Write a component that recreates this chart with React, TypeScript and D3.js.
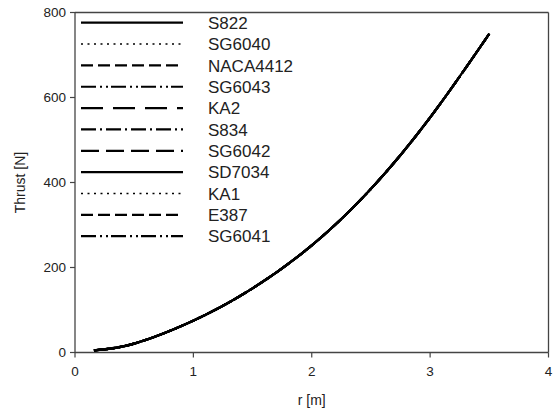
import React from "react";
import * as d3 from "d3";

const seriesNames = ["S822", "SG6040", "NACA4412", "SG6043", "KA2", "S834", "SG6042", "SD7034", "KA1", "E387", "SG6041"];
const dashPatterns = ["", "2,4.5", "12,5", "15,4,2,4,2,3", "22,10", "15,4,2,4", "18,7", "", "2,4.5", "12,5", "15,4,2,4,2,3"];
const radiusValues = [0.16, 0.5, 1.0, 1.5, 2.0, 2.5, 3.0, 3.5];
const thrustValues = [5, 21, 75, 151, 252, 385, 553, 750];
const xTicks = [0, 1, 2, 3, 4];
const yTicks = [0, 200, 400, 600, 800];

const W = 558, H = 412;
const M = { left: 75, right: 548.5, top: 12.5, bottom: 352.5 };
const FONT = "Liberation Sans, Arial, sans-serif";

export default function App() {
  const x = d3.scaleLinear().domain([0, 4]).range([M.left, M.right]);
  const y = d3.scaleLinear().domain([0, 800]).range([M.bottom, M.top]);
  const pts = radiusValues.map((r, i) => [r, thrustValues[i]] as [number, number]);
  const line = d3.line<[number, number]>().x(d => x(d[0])).y(d => y(d[1])).curve(d3.curveNatural);
  const path = line(pts) || "";
  const axisColor = "#444";
  return (
    <svg width={W} height={H} style={{ position: "absolute", left: 0, top: 0, background: "#fff" }} fontFamily={FONT}>
      <rect x={0} y={0} width={W} height={H} fill="#fff" />
      <line x1={M.left} x2={M.right} y1={M.top} y2={M.top} stroke={axisColor} strokeWidth={1.3} />
      <line x1={M.right} x2={M.right} y1={M.top} y2={M.bottom} stroke={axisColor} strokeWidth={1.3} />
      <line x1={M.left} x2={M.left} y1={M.top} y2={M.bottom} stroke={axisColor} strokeWidth={1.3} />
      <line x1={M.left} x2={M.right} y1={M.bottom} y2={M.bottom} stroke={axisColor} strokeWidth={1.3} />
      {yTicks.map(t => (
        <g key={"y" + t}>
          <line x1={M.left - 5} x2={M.left} y1={y(t)} y2={y(t)} stroke={axisColor} strokeWidth={1.2} />
          <text x={M.left - 9} y={y(t)} dy="0.35em" textAnchor="end" fontSize={13.5} fill="#222">{t}</text>
        </g>
      ))}
      {xTicks.map(t => (
        <g key={"x" + t}>
          <line x1={x(t)} x2={x(t)} y1={M.bottom} y2={M.bottom + 5} stroke={axisColor} strokeWidth={1.2} />
          <text x={x(t)} y={M.bottom + 23} textAnchor="middle" fontSize={13.5} fill="#222">{t}</text>
        </g>
      ))}
      <text x={(M.left + M.right) / 2} y={405} textAnchor="middle" fontSize={14} fill="#222">r [m]</text>
      <text transform={`translate(25,${(M.top + M.bottom) / 2}) rotate(-90)`} textAnchor="middle" fontSize={14} fill="#222">Thrust [N]</text>
      {seriesNames.map((name, i) => (
        <path key={"c" + name} d={path} fill="none" stroke="#000" strokeWidth={2.2} strokeDasharray={dashPatterns[i] || undefined} />
      ))}
      {seriesNames.map((name, i) => {
        const ly = 22.7 + i * 21.35;
        const dotted = dashPatterns[i].startsWith("2,");
        return (
          <g key={"l" + name}>
            <line x1={81} x2={183} y1={ly} y2={ly} stroke="#000" strokeWidth={dotted ? 1.5 : 2.2} strokeDasharray={dashPatterns[i] || undefined} />
            <text x={208} y={ly} dy="0.36em" fontSize={17} fill="#222">{name}</text>
          </g>
        );
      })}
    </svg>
  );
}
